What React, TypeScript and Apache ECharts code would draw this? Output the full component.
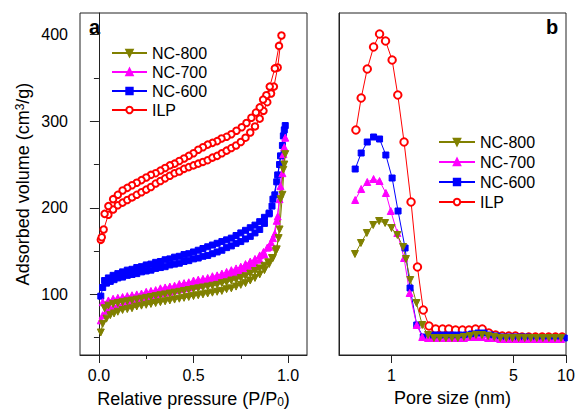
import React, { useEffect, useRef } from "react";
import * as echarts from "echarts";

// ---------- Panel a: N2 isotherms (P/P0, cm3/g) adsorption then desorption ----------
const ilpIso: [number, number][] = [
  [0.01, 163], [0.015, 166], [0.025, 175], [0.05, 192], [0.075, 198], [0.1, 203], [0.125, 206], [0.15, 209],
  [0.175, 212], [0.2, 215], [0.225, 218], [0.25, 221], [0.275, 224], [0.3, 228], [0.325, 231], [0.35, 234],
  [0.375, 237], [0.4, 240], [0.425, 242], [0.45, 245], [0.475, 247], [0.5, 249], [0.525, 251], [0.55, 253],
  [0.575, 255], [0.6, 258], [0.625, 260], [0.65, 263], [0.675, 266], [0.7, 269], [0.725, 272], [0.75, 276],
  [0.775, 281], [0.8, 287], [0.825, 294], [0.85, 303], [0.87, 312], [0.89, 322], [0.91, 332], [0.925, 340],
  [0.945, 362], [0.965, 399],
  [0.952, 387], [0.93, 361], [0.903, 340], [0.885, 330], [0.868, 325], [0.85, 316], [0.83, 310], [0.806, 304],
  [0.78, 298], [0.755, 293], [0.727, 289], [0.7, 285], [0.675, 282], [0.648, 280], [0.625, 277], [0.6, 275],
  [0.575, 273], [0.55, 270], [0.525, 267], [0.5, 263], [0.475, 260], [0.45, 257], [0.425, 254], [0.4, 251],
  [0.375, 249], [0.35, 246], [0.325, 243], [0.3, 240], [0.275, 238], [0.25, 235], [0.225, 232], [0.2, 229],
  [0.175, 226], [0.15, 223], [0.125, 220], [0.1, 215], [0.075, 210], [0.05, 202], [0.03, 193],
];

const nc600Iso: [number, number][] = [
  [0.01, 98], [0.02, 108], [0.04, 113], [0.06, 115], [0.08, 117], [0.1, 119], [0.125, 120], [0.15, 122],
  [0.175, 123], [0.2, 124], [0.225, 126], [0.25, 127], [0.275, 128], [0.3, 130], [0.325, 131], [0.35, 132],
  [0.375, 134], [0.4, 135], [0.425, 136], [0.45, 138], [0.475, 139], [0.5, 141], [0.525, 142], [0.55, 144],
  [0.575, 145], [0.6, 147], [0.625, 149], [0.65, 151], [0.675, 154], [0.7, 156], [0.725, 159], [0.75, 161],
  [0.775, 164], [0.8, 167], [0.825, 171], [0.85, 175], [0.875, 182], [0.9, 193], [0.92, 210], [0.94, 230],
  [0.955, 250], [0.97, 272], [0.98, 290], [0.985, 295],
  [0.975, 283], [0.96, 260], [0.945, 238], [0.93, 215], [0.915, 202], [0.9, 194], [0.875, 189], [0.85, 184],
  [0.825, 180], [0.8, 177], [0.775, 174], [0.75, 171], [0.725, 168], [0.7, 165], [0.675, 163], [0.65, 161],
  [0.625, 159], [0.6, 157], [0.575, 155], [0.55, 153], [0.525, 151], [0.5, 149], [0.475, 147], [0.45, 146],
  [0.425, 144], [0.4, 143], [0.375, 141], [0.35, 140], [0.325, 138], [0.3, 137], [0.275, 135], [0.25, 134],
  [0.225, 132], [0.2, 131], [0.175, 129], [0.15, 128], [0.125, 126], [0.1, 124], [0.075, 122], [0.05, 119],
  [0.03, 116],
];

const nc700Iso: [number, number][] = [
  [0.01, 70], [0.02, 76], [0.04, 81], [0.06, 84], [0.08, 86], [0.1, 88], [0.125, 89], [0.15, 91],
  [0.175, 92], [0.2, 94], [0.225, 95], [0.25, 97], [0.275, 98], [0.3, 99], [0.325, 101], [0.35, 102],
  [0.375, 103], [0.4, 105], [0.425, 106], [0.45, 107], [0.475, 108], [0.5, 110], [0.525, 111], [0.55, 113],
  [0.575, 114], [0.6, 116], [0.625, 117], [0.65, 119], [0.675, 121], [0.7, 123], [0.725, 125], [0.75, 127],
  [0.775, 130], [0.8, 133], [0.825, 136], [0.85, 140], [0.875, 146], [0.9, 155], [0.92, 165], [0.94, 185],
  [0.955, 210], [0.97, 240], [0.98, 270], [0.985, 281],
  [0.975, 262], [0.96, 225], [0.945, 190], [0.93, 170], [0.91, 160], [0.89, 154], [0.87, 149], [0.85, 145],
  [0.825, 141], [0.8, 138], [0.775, 135], [0.75, 132], [0.725, 130], [0.7, 128], [0.675, 126], [0.65, 124],
  [0.625, 122], [0.6, 121], [0.575, 119], [0.55, 118], [0.525, 117], [0.5, 116], [0.475, 114], [0.45, 113],
  [0.425, 112], [0.4, 110], [0.375, 109], [0.35, 108], [0.325, 107], [0.3, 105], [0.275, 104], [0.25, 103],
  [0.225, 101], [0.2, 100], [0.175, 99], [0.15, 98], [0.125, 97], [0.1, 96], [0.075, 95], [0.05, 93],
  [0.02, 91],
];

const nc800Iso: [number, number][] = [
  [0.01, 56], [0.02, 66], [0.04, 72], [0.06, 76], [0.08, 78], [0.1, 80], [0.125, 82], [0.15, 83],
  [0.175, 84], [0.2, 86], [0.225, 87], [0.25, 88], [0.275, 89], [0.3, 90], [0.325, 91], [0.35, 92],
  [0.375, 93], [0.4, 94], [0.425, 95], [0.45, 96], [0.475, 97], [0.5, 98], [0.525, 99], [0.55, 100],
  [0.575, 101], [0.6, 102], [0.625, 103], [0.65, 104], [0.675, 106], [0.7, 107], [0.725, 109], [0.75, 111],
  [0.775, 113], [0.8, 116], [0.825, 119], [0.85, 123], [0.875, 128], [0.9, 135], [0.92, 142], [0.94, 152],
  [0.955, 175], [0.97, 215], [0.98, 250], [0.985, 262],
  [0.975, 244], [0.96, 210], [0.95, 165], [0.935, 150], [0.915, 142], [0.895, 137], [0.875, 133], [0.85, 130],
  [0.825, 127], [0.8, 124], [0.775, 121], [0.75, 119], [0.725, 117], [0.7, 116], [0.675, 114], [0.65, 113],
  [0.625, 111], [0.6, 110], [0.575, 109], [0.55, 108], [0.525, 107], [0.5, 106], [0.475, 105], [0.45, 104],
  [0.425, 103], [0.4, 102], [0.375, 101], [0.35, 100], [0.325, 99], [0.3, 98], [0.275, 97], [0.25, 96],
  [0.225, 95], [0.2, 94], [0.175, 93], [0.15, 92], [0.125, 91], [0.1, 90], [0.075, 89], [0.05, 87],
  [0.03, 84],
];

// ---------- Panel b: pore size distribution (nm, arbitrary units) ----------
const ilpPsd: [number, number][] = [
  [0.625, 2.25], [0.67, 2.57], [0.726, 2.86], [0.789, 3.08], [0.854, 3.21], [0.924, 3.14], [1.008, 2.95],
  [1.086, 2.6], [1.18, 2.13], [1.294, 1.53], [1.408, 0.88], [1.52, 0.45], [1.64, 0.29], [1.79, 0.26],
  [1.96, 0.26], [2.13, 0.26], [2.33, 0.25], [2.55, 0.25], [2.78, 0.25], [3.03, 0.26], [3.31, 0.26],
  [3.61, 0.22], [3.95, 0.2], [4.31, 0.19], [4.7, 0.19], [5.13, 0.19], [5.6, 0.18], [6.12, 0.18],
  [6.68, 0.18], [7.3, 0.18], [7.96, 0.18], [8.7, 0.18], [9.5, 0.18],
];

const nc600Psd: [number, number][] = [
  [0.619, 1.86], [0.67, 2.02], [0.726, 2.13], [0.789, 2.18], [0.854, 2.16], [0.928, 2.0], [1.008, 1.77],
  [1.09, 1.44], [1.196, 1.07], [1.277, 0.67], [1.395, 0.3], [1.52, 0.18], [1.64, 0.19], [1.77, 0.2],
  [1.92, 0.2], [2.08, 0.2], [2.26, 0.2], [2.45, 0.2], [2.66, 0.2], [2.88, 0.21], [3.13, 0.22], [3.39, 0.22],
  [3.68, 0.2], [4.0, 0.19], [4.34, 0.18], [4.7, 0.18], [5.1, 0.18], [5.54, 0.18], [6.0, 0.18], [6.5, 0.17],
  [7.07, 0.17], [7.67, 0.17], [8.32, 0.17], [9.0, 0.17], [9.77, 0.17],
];

const nc700Psd: [number, number][] = [
  [0.619, 1.55], [0.67, 1.66], [0.726, 1.73], [0.789, 1.76], [0.854, 1.74], [0.928, 1.62], [0.99, 1.44],
  [1.08, 1.22], [1.18, 0.97], [1.27, 0.62], [1.395, 0.3], [1.5, 0.18], [1.62, 0.17], [1.75, 0.17],
  [1.89, 0.17], [2.05, 0.17], [2.22, 0.17], [2.4, 0.17], [2.6, 0.17], [2.82, 0.18], [3.05, 0.18],
  [3.3, 0.18], [3.58, 0.17], [3.88, 0.17], [4.2, 0.16], [4.55, 0.16], [4.93, 0.16], [5.35, 0.16],
  [5.8, 0.16], [6.28, 0.16], [6.8, 0.16], [7.37, 0.16], [7.98, 0.16], [8.65, 0.16], [9.37, 0.16],
];

const nc800Psd: [number, number][] = [
  [0.617, 1.01], [0.668, 1.12], [0.722, 1.22], [0.785, 1.3], [0.849, 1.34], [0.919, 1.32], [1.0, 1.27],
  [1.08, 1.2], [1.165, 1.08], [1.21, 0.96], [1.28, 0.75], [1.39, 0.52], [1.5, 0.3], [1.62, 0.2],
  [1.75, 0.17], [1.89, 0.17], [2.05, 0.17], [2.22, 0.17], [2.4, 0.17], [2.6, 0.18], [2.82, 0.19],
  [3.05, 0.2], [3.3, 0.2], [3.58, 0.19], [3.88, 0.18], [4.2, 0.17], [4.55, 0.17], [4.93, 0.17],
  [5.35, 0.17], [5.8, 0.17], [6.28, 0.17], [6.8, 0.17], [7.37, 0.17], [7.98, 0.17], [8.65, 0.17],
  [9.37, 0.17],
];

const legendNames = ["NC-800", "NC-700", "NC-600", "ILP"];
const aXLabels = [0, 0.5, 1.0];
const aXMinor = [0.25, 0.75];
const aYLabels = [100, 200, 300, 400];
const aYMinor = [50, 150, 250, 350];
const bXLabels = [1, 5, 10];

const FONT = "'Liberation Sans', Arial, sans-serif";
const AXIS_COLOR = "#222";

export default function App() {
  const ref = useRef<HTMLDivElement>(null);
  useEffect(() => {
    document.body.style.margin = "0";
    const chart = echarts.init(ref.current!, null, { renderer: "svg" });

    const styleOf = (name: string, panel: number) => {
      switch (name) {
        case "NC-800":
          return { color: "#808000", symbol: "triangle", symbolRotate: 180, symbolSize: 7 };
        case "NC-700":
          return { color: "#ff00ff", symbol: "triangle", symbolRotate: 0, symbolSize: 7 };
        case "NC-600":
          return { color: "#0000ff", symbol: "rect", symbolRotate: 0, symbolSize: 6 };
        default:
          return { color: "#ff0000", symbol: "emptyCircle", symbolRotate: 0, symbolSize: panel === 0 ? 6.5 : 7.5 };
      }
    };

    const mk = (name: string, data: [number, number][], axis: number) => {
      const s = styleOf(name, axis);
      return {
        type: "line",
        name,
        data,
        xAxisIndex: axis === 0 ? 0 : 2,
        yAxisIndex: axis === 0 ? 0 : 2,
        symbol: s.symbol,
        symbolSize: s.symbolSize,
        symbolRotate: s.symbolRotate,
        lineStyle: { color: s.color, width: 1 },
        itemStyle: { color: s.color, borderColor: s.color, borderWidth: name === "ILP" ? 0.9 : 1 },
        emphasis: { disabled: true },
      };
    };

    const tickLabelStyle = { color: "#000", fontSize: 16, fontFamily: FONT };

    const option: any = {
      animation: false,
      textStyle: { fontFamily: FONT },
      grid: [
        { left: 80, top: 13, width: 227, height: 342, show: true, borderColor: AXIS_COLOR, borderWidth: 1, containLabel: false, outerBoundsMode: "none" },
        { left: 339, top: 13, width: 227, height: 342, show: true, borderColor: AXIS_COLOR, borderWidth: 1, containLabel: false, outerBoundsMode: "none" },
      ],
      xAxis: [
        {
          type: "value", gridIndex: 0, position: "bottom", min: -0.1, max: 1.1,
          name: "Relative pressure (P/P{sub|0})", nameLocation: "middle", nameGap: 34,
          nameTextStyle: {
            fontSize: 18, color: "#000", fontFamily: FONT,
            rich: { sub: { fontSize: 12, verticalAlign: "bottom", lineHeight: 10, padding: [8, 0, 0, 0], fontFamily: FONT, color: "#000" } },
          },
          axisLine: { show: true, lineStyle: { color: AXIS_COLOR } },
          axisTick: { show: true, customValues: aXLabels, length: 8, lineStyle: { color: AXIS_COLOR } },
          axisLabel: { show: true, customValues: aXLabels, margin: 12, formatter: (v: number) => v.toFixed(1), ...tickLabelStyle },
          splitLine: { show: false },
        },
        {
          type: "value", gridIndex: 0, position: "bottom", min: -0.1, max: 1.1,
          axisLine: { show: false },
          axisTick: { show: true, customValues: aXMinor, length: 4, lineStyle: { color: AXIS_COLOR } },
          axisLabel: { show: false },
          splitLine: { show: false },
        },
        {
          type: "log", logBase: 10, gridIndex: 1, position: "bottom", min: 0.5, max: 10,
          name: "Pore size (nm)", nameLocation: "middle", nameGap: 34,
          nameTextStyle: { fontSize: 18, color: "#000", fontFamily: FONT },
          axisLine: { show: true, lineStyle: { color: AXIS_COLOR } },
          axisTick: { show: true, customValues: bXLabels, length: 8, lineStyle: { color: AXIS_COLOR } },
          axisLabel: { show: true, customValues: bXLabels, margin: 12, formatter: (v: number) => String(Math.round(v)), ...tickLabelStyle },
          splitLine: { show: false },
          minorSplitLine: { show: false },
        },
      ],
      yAxis: [
        {
          type: "value", gridIndex: 0, position: "left", min: 30, max: 425,
          name: "Adsorbed volume (cm{sup|3}/g)", nameLocation: "middle", nameGap: 48, nameRotate: 90,
          nameTextStyle: {
            fontSize: 18, color: "#000", fontFamily: FONT,
            rich: { sup: { fontSize: 12, verticalAlign: "top", lineHeight: 10, padding: [0, 0, 8, 0], fontFamily: FONT, color: "#000" } },
          },
          axisLine: { show: true, lineStyle: { color: AXIS_COLOR } },
          axisTick: { show: true, customValues: aYLabels, length: 9, lineStyle: { color: AXIS_COLOR } },
          axisLabel: { show: true, customValues: aYLabels, margin: 12, ...tickLabelStyle },
          splitLine: { show: false },
        },
        {
          type: "value", gridIndex: 0, position: "left", min: 30, max: 425,
          axisLine: { show: false },
          axisTick: { show: true, customValues: aYMinor, length: 5, lineStyle: { color: AXIS_COLOR } },
          axisLabel: { show: false },
          splitLine: { show: false },
        },
        {
          type: "value", gridIndex: 1, position: "left", min: 0, max: 3.42,
          axisLine: { show: true, lineStyle: { color: AXIS_COLOR } },
          axisTick: { show: false },
          axisLabel: { show: false },
          splitLine: { show: false },
        },
      ],
      legend: [
        {
          data: legendNames, orient: "vertical", left: 111, top: 45, itemWidth: 35, itemHeight: 8, itemGap: 3,
          textStyle: { fontSize: 16, color: "#000", fontFamily: FONT }, selectedMode: false, padding: 0,
        },
        {
          data: legendNames, orient: "vertical", left: 438, top: 134, itemWidth: 36, itemHeight: 8, itemGap: 4,
          textStyle: { fontSize: 16, color: "#000", fontFamily: FONT }, selectedMode: false, padding: 0,
        },
      ],
      graphic: [
        { type: "text", left: 89, top: 17, style: { text: "a", fontSize: 20, fontWeight: "bold", fontFamily: FONT, fill: "#000" } },
        { type: "text", left: 546, top: 17, style: { text: "b", fontSize: 20, fontWeight: "bold", fontFamily: FONT, fill: "#000" } },
      ],
      series: [
        mk("ILP", ilpIso, 0),
        mk("NC-600", nc600Iso, 0),
        mk("NC-700", nc700Iso, 0),
        mk("NC-800", nc800Iso, 0),
        mk("ILP", ilpPsd, 1),
        mk("NC-600", nc600Psd, 1),
        mk("NC-700", nc700Psd, 1),
        mk("NC-800", nc800Psd, 1),
      ],
    };
    chart.setOption(option);
    return () => chart.dispose();
  }, []);
  return <div ref={ref} style={{ width: 577, height: 411 }} />;
}
